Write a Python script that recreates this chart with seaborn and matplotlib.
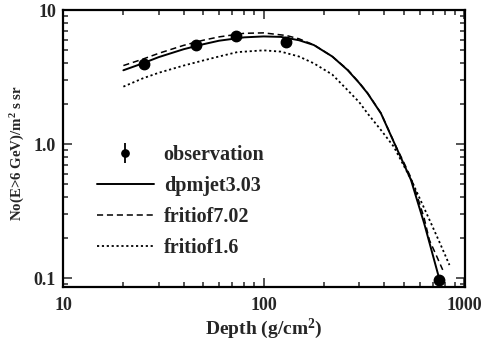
import numpy as np
import pandas as pd
import matplotlib
matplotlib.use("Agg")
import matplotlib.pyplot as plt
import seaborn as sns
from matplotlib.ticker import FixedLocator, FixedFormatter, LogLocator, NullFormatter

# --- data ---
obs_depth = [25.4, 46.0, 73.0, 130.0, 751.0]
obs_flux = [3.95, 5.45, 6.35, 5.8, 0.097]
obs_err = [0.25, 0.3, 0.3, 0.35, 0.008]

dpm_depth = [20, 25, 30, 40, 50, 60, 80, 100, 122, 150, 178, 220, 262, 300, 330, 385, 457, 500, 543, 580, 632, 700, 750]
dpm_flux = [3.55, 4.0, 4.45, 5.1, 5.55, 5.9, 6.25, 6.35, 6.3, 5.95, 5.48, 4.5, 3.57, 2.85, 2.39, 1.69, 0.955, 0.71, 0.54, 0.39, 0.256, 0.146, 0.1]

f702_depth = [20, 25, 30, 40, 50, 60, 80, 100, 130, 150, 178, 220, 262, 300, 330, 385, 457, 500, 543, 580, 632, 671, 720, 782]
f702_flux = [3.85, 4.3, 4.75, 5.45, 5.95, 6.3, 6.7, 6.75, 6.45, 6.1, 5.5, 4.5, 3.6, 2.87, 2.4, 1.7, 0.96, 0.73, 0.56, 0.42, 0.28, 0.192, 0.152, 0.115]

f16_depth = [20, 25, 30, 40, 50, 60, 74, 100, 122, 150, 178, 220, 262, 300, 330, 385, 446, 500, 545, 600, 684, 760, 845]
f16_flux = [2.68, 3.09, 3.4, 3.85, 4.2, 4.5, 4.85, 5.0, 4.89, 4.5, 4.0, 3.3, 2.53, 2.05, 1.69, 1.27, 0.955, 0.69, 0.54, 0.394, 0.256, 0.18, 0.125]

labels = ["observation", "dpmjet3.03", "fritiof7.02", "fritiof1.6"]
x_ticks = [10, 100, 1000]
x_ticklabels = ["10", "100", "1000"]
y_ticks = [0.1, 1.0, 10]
y_ticklabels = ["0.1", "1.0", "10"]

sns.set_theme(style="ticks")
plt.rcParams["font.family"] = ["Liberation Serif", "DejaVu Serif"]
plt.rcParams["font.weight"] = "bold"
plt.rcParams["mathtext.fontset"] = "custom"
plt.rcParams["mathtext.rm"] = "Liberation Serif:bold"
plt.rcParams["mathtext.bf"] = "Liberation Serif:bold"
plt.rcParams["mathtext.default"] = "rm"

fig = plt.figure(figsize=(4.89, 3.43), dpi=100)
ax = fig.add_axes([63 / 489, 1 - 287 / 343, (465 - 63) / 489, (287 - 10) / 343])

df_dpm = pd.DataFrame({"x": dpm_depth, "y": dpm_flux})
df_f7 = pd.DataFrame({"x": f702_depth, "y": f702_flux})
df_f1 = pd.DataFrame({"x": f16_depth, "y": f16_flux})

sns.lineplot(data=df_dpm, x="x", y="y", ax=ax, color="black", lw=1.4, label=labels[1])
sns.lineplot(data=df_f7, x="x", y="y", ax=ax, color="black", lw=1.1, label=labels[2])
sns.lineplot(data=df_f1, x="x", y="y", ax=ax, color="black", lw=1.3, label=labels[3])
lines = ax.get_lines()
lines[1].set_dashes((4, 2.5))
lines[2].set_dashes((1.2, 1.5))

eb = ax.errorbar(obs_depth, obs_flux, yerr=obs_err, fmt="o", color="black",
                 ms=7.5, elinewidth=1.3, capsize=0, label=labels[0])

ax.set_xscale("log")
ax.set_yscale("log")
ax.set_xlim(10, 1010)
ax.set_ylim(0.0857, 10)

ax.xaxis.set_major_locator(FixedLocator(x_ticks))
ax.xaxis.set_major_formatter(FixedFormatter(x_ticklabels))
ax.xaxis.set_minor_locator(LogLocator(base=10, subs=np.arange(2, 10)))
ax.xaxis.set_minor_formatter(NullFormatter())
ax.yaxis.set_major_locator(FixedLocator(y_ticks))
ax.yaxis.set_major_formatter(FixedFormatter(y_ticklabels))
ax.yaxis.set_minor_locator(LogLocator(base=10, subs=np.arange(2, 10)))
ax.yaxis.set_minor_formatter(NullFormatter())

ax.tick_params(which="both", direction="in", top=True, right=True, width=1.1)
ax.tick_params(which="major", length=6.5, labelsize=13)
ax.tick_params(axis="x", which="major", pad=7)
ax.tick_params(axis="y", which="major", pad=5)
ax.tick_params(which="minor", length=3.8)
for lab in ax.get_xticklabels() + ax.get_yticklabels():
    lab.set_fontweight("bold")
for s in ax.spines.values():
    s.set_linewidth(1.6)
    s.set_color("black")

ax.set_xlabel("Depth (g/cm$^2$)", fontsize=14, fontweight="bold", labelpad=2)
ax.set_ylabel("No(E>6 GeV)/m$^2$ s sr", fontsize=10.7, fontweight="bold")
ax.yaxis.set_label_coords(-0.09, 0.484)

handles, labs = ax.get_legend_handles_labels()
order = [labs.index(l) for l in labels]
leg = ax.legend([handles[i] for i in order], [labs[i] for i in order],
                loc="lower left", bbox_to_anchor=(0.085, 0.105), frameon=False,
                handlelength=2.8, labelspacing=0.55, handletextpad=0.5,
                borderpad=0, borderaxespad=0, markerscale=0.7,
                prop={"weight": "bold", "size": 14.5})

fig.savefig("out.png", dpi=100)
